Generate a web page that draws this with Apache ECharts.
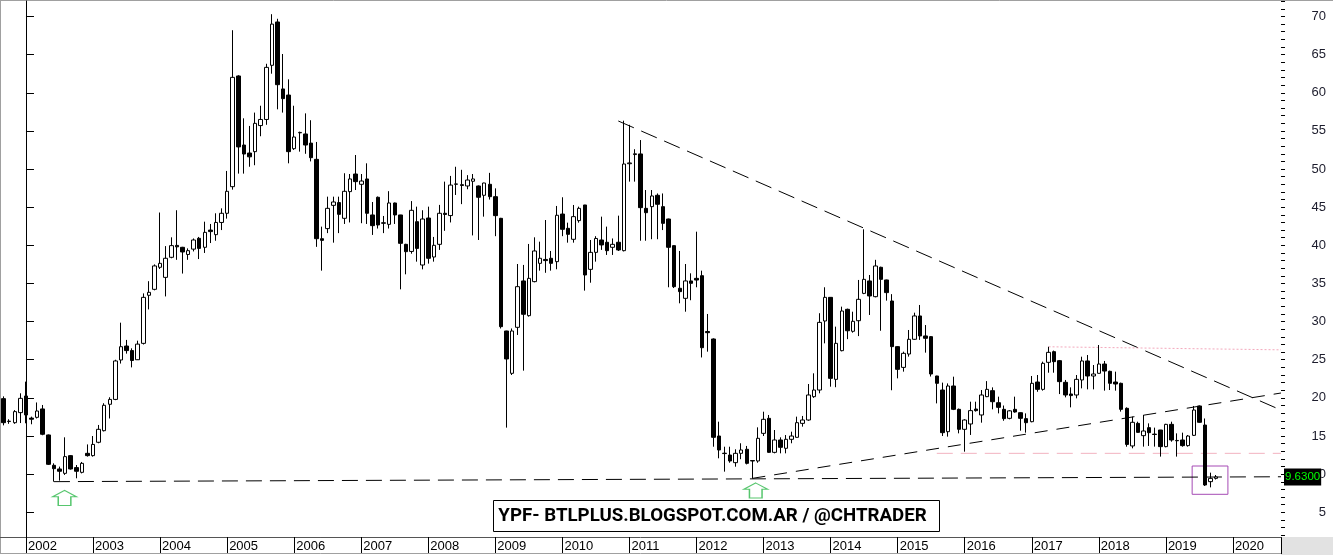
<!DOCTYPE html>
<html><head><meta charset="utf-8">
<script src="https://cdn.jsdelivr.net/npm/echarts/dist/echarts.min.js"></script>
<style>html,body{margin:0;padding:0;background:#fff}#c{width:1333px;height:555px}</style>
</head><body><div id="c"></div>
<script>
// month index counted from Jan 2002 (0); first candle = Sep 2001
const firstMonth = -4;
const opens = [
 19.9,16.9,16.75,18.07,
 20.25,17.35,17.45,18.55,15.14,11.16,10.68,10.11,12.43,10.86,10.24,12.73,
 12.43,14.18,15.7,19.16,19.8,24.97,26.8,26.2,25.0,27.15,33.45,34.23,
 37.12,35.8,38.43,39.99,39.74,38.8,39.5,40.92,39.74,42.0,41.4,43.0,
 44.2,47.69,62.2,53.15,52.1,52.28,55.7,56.5,63.6,69.28,60.5,59.7,
 52.67,54.75,54.6,53.4,51.27,40.87,42.19,45.24,45.6,43.54,47.04,49.35,
 48.0,48.7,43.98,46.3,42.95,42.75,45.55,43.98,40.13,39.2,43.1,37.42,
 43.58,38.47,40.13,44.2,43.9,48.0,47.95,47.78,48.4,47.78,46.56,48.0,
 46.38,43.54,28.77,23.22,29.25,35.33,30.78,35.24,37.64,38.15,38.3,37.86,
 44.1,42.23,40.79,43.24,45.29,36.85,39.08,40.7,40.4,39.74,40.4,39.3,
 50.7,51.9,51.98,44.85,45.07,46.56,45.07,43.45,39.96,34.37,33.05,35.33,
 35.67,36.02,28.7,27.72,15.0,12.75,12.51,11.51,12.73,13.26,11.78,11.73,
 15.35,17.32,12.86,14.48,13.39,14.57,14.83,16.66,17.1,20.16,21.03,30.08,
 33.18,22.43,26.19,31.61,28.73,30.12,33.7,35.33,33.27,37.12,35.46,32.7,
 26.72,24.0,25.75,27.68,30.74,28.12,28.03,22.87,21.03,15.57,21.56,18.5,
 15.88,16.58,18.54,17.76,20.16,20.95,19.37,18.5,17.32,18.5,18.06,17.28,
 16.88,22.08,21.12,24.66,26.06,24.88,22.04,20.51,20.38,22.35,24.84,22.87,
 23.22,24.44,23.48,22.08,21.91,18.63,13.7,16.66,15.05,16.1,15.25,15.79,
 13.61,16.53,14.42,14.48,13.74,15.09,18.94,16.44,9.02,9.45
];
const closes = [
 16.75,16.95,18.2,19.94,
 17.76,17.2,18.28,15.23,11.29,10.72,10.38,12.3,10.68,10.38,11.42,12.43,
 13.9,15.88,19.03,19.8,24.84,26.71,26.2,24.9,27.05,33.18,33.84,37.3,
 37.64,38.3,39.96,39.8,39.13,39.3,40.7,39.6,41.7,41.8,43.0,44.2,
 47.08,62.02,52.9,51.97,51.6,55.99,56.5,63.33,69.0,61.06,59.23,52.28,
 54.2,54.8,53.15,51.49,40.87,40.65,44.85,45.68,44.06,47.08,48.7,48.35,
 48.43,44.2,42.58,42.67,42.9,45.55,43.98,40.26,39.17,44.59,39.6,43.45,
 38.3,40.0,44.2,44.05,47.9,48.05,47.85,48.56,48.7,46.3,48.17,46.38,
 43.89,29.34,25.1,28.77,34.58,30.96,35.67,39.26,38.3,38.0,37.64,43.94,
 42.1,41.44,43.76,44.85,36.11,39.08,40.9,40.05,39.3,40.13,39.39,50.66,
 50.8,52.0,44.94,44.28,46.47,45.38,42.88,39.74,34.58,33.93,35.33,35.02,
 35.45,26.58,28.55,14.83,13.17,12.7,11.73,12.73,13.17,11.42,11.73,14.7,
 17.19,12.86,14.48,13.52,14.57,15.0,16.75,17.1,20.38,21.03,29.9,33.18,
 22.56,27.15,31.39,28.8,30.04,32.92,35.54,33.36,37.29,35.54,33.8,26.72,
 23.74,25.84,27.68,30.74,28.12,27.81,23.13,21.91,15.44,21.56,18.5,15.88,
 17.1,18.33,18.33,20.38,21.12,19.5,18.76,17.28,18.3,18.15,17.32,16.75,
 21.91,21.12,24.53,25.97,24.75,22.13,20.38,20.3,22.43,24.84,22.87,23.13,
 24.44,23.52,21.91,21.82,18.5,13.9,16.8,15.48,15.66,15.44,15.2,13.61,
 16.53,14.48,14.38,13.74,15.0,18.41,16.8,8.58,9.45,9.63
];
const lows = [
 16.4,16.6,16.6,16.7,
 16.67,16.54,17.3,15.1,11.2,9.02,9.15,9.9,10.6,9.46,10.1,12.3,
 12.3,14.05,15.6,17.3,19.7,24.5,25.8,24.0,24.97,27.0,31.6,34.1,
 36.9,33.3,38.3,38.1,36.3,38.1,39.2,38.2,39.0,40.3,40.6,42.0,
 43.5,47.3,49.4,49.4,50.3,50.5,54.3,55.8,62.5,57.83,57.4,50.75,
 52.5,52.28,52.0,51.0,39.8,36.68,41.6,40.35,41.6,42.8,43.0,47.25,
 42.9,42.8,41.36,42.2,41.6,42.2,42.8,34.23,36.2,38.9,37.86,36.85,
 37.6,37.86,39.4,41.9,43.0,46.6,45.4,47.35,41.3,40.7,43.76,46.0,
 41.2,29.1,16.1,23.0,28.25,23.57,30.65,35.15,36.68,36.4,36.68,36.86,
 41.2,40.35,40.35,42.97,34.06,35.1,37.86,39.4,38.74,38.74,39.26,39.2,
 48.35,48.35,40.6,40.6,40.8,40.8,42.0,34.5,34.4,32.4,31.3,32.8,
 34.5,25.3,26.06,13.6,12.08,10.33,11.5,10.98,11.96,11.28,9.45,11.5,
 15.0,12.8,12.73,12.73,12.73,14.05,14.8,16.23,17.0,20.0,20.6,27.15,
 21.47,21.4,26.1,27.7,28.55,28.1,33.6,30.87,33.18,28.8,32.75,21.0,
 22.56,23.44,25.41,27.6,27.6,25.93,22.8,19.28,15.0,14.92,18.4,15.35,
 12.95,15.14,18.2,16.75,20.1,18.5,17.97,17.0,17.19,18.06,15.7,15.44,
 16.8,20.8,20.95,23.3,23.3,20.5,20.07,18.76,19.94,21.25,21.12,21.12,
 23.2,20.95,21.03,20.95,18.2,13.6,13.39,15.44,13.61,13.7,13.61,12.3,
 13.52,14.26,12.3,13.6,13.61,15.0,16.75,8.45,8.27,9.3
];
const highs = [
 20.2,17.2,18.4,20.6,
 22.13,17.54,19.4,19.07,15.2,11.42,10.99,14.83,12.5,11.2,11.6,13.9,
 15.0,16.45,19.3,20.08,25.0,29.86,27.6,26.5,27.5,33.7,35.3,37.5,
 44.3,39.9,41.05,44.6,39.8,39.6,40.9,41.1,43.1,42.8,44.2,44.85,
 49.75,68.2,62.3,56.65,55.65,57.4,58.3,63.8,70.3,69.7,65.08,61.76,
 58.3,54.9,57.3,56.4,53.55,42.45,46.38,46.38,46.38,49.45,49.35,51.84,
 49.35,50.75,45.68,46.4,43.85,47.1,45.6,44.0,40.2,45.8,45.07,44.6,
 45.07,41.1,45.3,48.35,49.1,50.3,49.9,49.2,49.35,47.85,48.2,49.5,
 47.47,43.6,28.8,29.1,37.55,37.43,40.18,41.05,40.48,43.32,39.26,45.16,
 46.3,42.97,45.29,45.07,45.3,40.7,41.2,43.76,42.45,40.9,43.89,56.34,
 55.8,52.6,53.8,47.25,47.25,46.8,46.8,43.5,40.0,39.26,37.55,36.33,
 41.79,36.68,31.0,27.8,16.88,13.6,13.6,13.26,14.05,13.7,11.8,16.14,
 18.19,17.76,15.79,14.83,15.13,15.57,17.54,17.63,21.82,23.22,31.1,34.5,
 33.2,29.34,31.96,31.7,31.3,35.46,42.1,36.11,38.1,37.2,35.5,33.6,
 26.8,26.06,28.9,31.17,32.18,29.55,28.1,22.9,22.0,21.9,22.78,18.6,
 17.2,19.5,19.5,21.03,22.2,21.38,20.16,19.0,18.4,20.16,18.1,17.97,
 22.87,23.0,24.75,26.7,26.2,24.97,22.35,21.38,23.0,25.4,25.62,24.31,
 26.93,24.84,23.57,23.44,22.0,18.76,17.54,16.88,17.76,16.66,16.1,15.8,
 16.6,16.88,15.35,15.44,15.13,18.94,19.0,17.3,10.2,9.89
];
const yearTicks = [0,12,24,36,48,60,72,84,96,108,120,132,144,156,168,180,192,204,216];
const yearLabels = ['2002','2003','2004','2005','2006','2007','2008','2009','2010','2011','2012','2013','2014','2015','2016','2017','2018','2019','2020'];
const priceTicks = [5,10,15,20,25,30,35,40,45,50,55,60,65,70];
const minorPriceTicks = [2,3,4,5,6,7,8,9,10,11,12,13,14,15,16,17,18,19,20,21,22,23,24,25,26,27,28,29,30,31,32,33,34,35,36,37,38,39,40,41,42,43,44,45,46,47,48,49,50,51,52,53,54,55,56,57,58,59,60,61,62,63,64,65,66,67,68,69,70,71,72];
// trend lines: [month index, price]
const bottomLine = [[5, 9.02], [224.6, 9.66]];
const supportLine = [[130, 9.45], [224.6, 20.64]];
const resistanceLine = [[106, 56.3], [224.6, 18.4]];
const pinkTopLine = [[183, 26.7], [224.6, 26.3]];
const pinkMidLine = [[163, 12.73], [224.6, 12.73]];
const arrowPoints = [[6.9, 6.88], [130.6, 7.86]];
const boxCorners = [[208.7, 11.07], [215.1, 7.36]];
const watermark = 'YPF- BTLPLUS.BLOGSPOT.COM.AR / @CHTRADER';

const candles = opens.map((o, i) => [firstMonth + i, o, closes[i], lows[i], highs[i]]);
const lastPrice = closes[closes.length - 1];

const chart = echarts.init(document.getElementById('c'));
const font = '"Liberation Sans", Arial, sans-serif';
function trend(data, color, dash) {
  return {type: 'line', data, symbol: 'none', showSymbol: false, silent: true, z: 3,
    lineStyle: {color, width: 1, type: dash}, emphasis: {disabled: true}};
}
chart.setOption({
  animation: false,
  backgroundColor: '#fff',
  grid: {left: 0, top: 1, right: 52, bottom: 18},
  xAxis: {
    type: 'value', min: -4.65, max: 224.6, splitLine: {show: false},
    axisLine: {show: true, lineStyle: {color: '#555', width: 1}},
    axisTick: {show: true, customValues: yearTicks, length: 16, lineStyle: {color: '#000'}},
    axisLabel: {customValues: yearTicks, formatter: v => yearLabels[yearTicks.indexOf(v)],
      align: 'left', padding: [0, 0, 0, 2], margin: 3, color: '#000', fontSize: 13, fontFamily: font}
  },
  yAxis: [{
    type: 'value', position: 'right', min: 1.763, max: 72.03, splitLine: {show: false},
    axisLine: {show: true, lineStyle: {color: '#000'}},
    axisTick: {show: true, customValues: priceTicks, length: 8, lineStyle: {color: '#000'}},
    axisLabel: {customValues: priceTicks, align: 'right', margin: 45, color: '#1c1c2c', fontSize: 13, fontFamily: font}
  }, {
    type: 'value', position: 'right', min: 1.763, max: 72.03, splitLine: {show: false},
    axisLine: {show: false},
    axisTick: {show: true, customValues: minorPriceTicks, length: 4, lineStyle: {color: '#000'}},
    axisLabel: {show: false}
  }],
  series: [
    {
      type: 'candlestick', data: candles, barWidth: 4, z: 4,
      itemStyle: {color: '#fff', color0: '#000', borderColor: '#000', borderColor0: '#000', borderWidth: 1},
      emphasis: {disabled: true},
      markLine: {
        silent: true, symbol: ['none', 'none'], animation: false,
        data: [{yAxis: lastPrice}],
        lineStyle: {color: 'rgba(0,0,0,0)', width: 0},
        label: {show: true, position: 'end', distance: 3, formatter: () => lastPrice.toFixed(4),
          color: '#00ff00', backgroundColor: '#000', padding: [3, 1, 2, 1], fontSize: 11.5, fontFamily: font}
      },
      markArea: {
        silent: true,
        itemStyle: {color: 'rgba(0,0,0,0)', borderColor: '#a64bb5', borderWidth: 1},
        data: [[{coord: boxCorners[0]}, {coord: boxCorners[1]}]]
      }
    },
    trend(bottomLine, '#000', [16, 8]),
    trend(supportLine, '#000', [13, 9]),
    trend(resistanceLine, '#000', [17, 8]),
    trend(pinkTopLine, '#f4a9bd', [2, 2]),
    trend(pinkMidLine, '#f2b3c0', [16, 8]),
    {
      type: 'scatter', data: arrowPoints, silent: true, z: 5,
      symbol: 'path://M12,0 L24,6.3 L18.3,6.3 L18.3,15 L5.7,15 L5.7,6.3 L0,6.3 Z',
      symbolSize: [24, 15],
      itemStyle: {color: 'rgba(0,0,0,0)', borderColor: '#2db84a', borderWidth: 1.2}
    }
  ],
  graphic: [
    {type: 'rect', shape: {x: 1281, y: 537, width: 52, height: 18}, style: {fill: '#e2e2e2'}, z: -1},
    {type: 'line', shape: {x1: 0, y1: 0.5, x2: 1333, y2: 0.5}, style: {stroke: '#a0a0a0', lineWidth: 1}},
    {type: 'line', shape: {x1: 0.5, y1: 0, x2: 0.5, y2: 554}, style: {stroke: '#a0a0a0', lineWidth: 1}},
    {type: 'line', shape: {x1: 0, y1: 553.5, x2: 1281, y2: 553.5}, style: {stroke: '#a0a0a0', lineWidth: 1}},
    {type: 'line', shape: {x1: 1281.5, y1: 537, x2: 1281.5, y2: 554}, style: {stroke: '#000', lineWidth: 1}},
    {type: 'rect', z: 50, shape: {x: 493.5, y: 500.5, width: 446, height: 31},
      style: {fill: '#fff', stroke: '#000', lineWidth: 1}},
    {type: 'text', z: 51, x: 712.5, y: 516.5,
      style: {text: watermark, fill: '#000', font: 'bold 18.7px Roboto, "Liberation Sans", sans-serif',
        textAlign: 'center', textVerticalAlign: 'middle'}}
  ]
});
</script></body></html>
